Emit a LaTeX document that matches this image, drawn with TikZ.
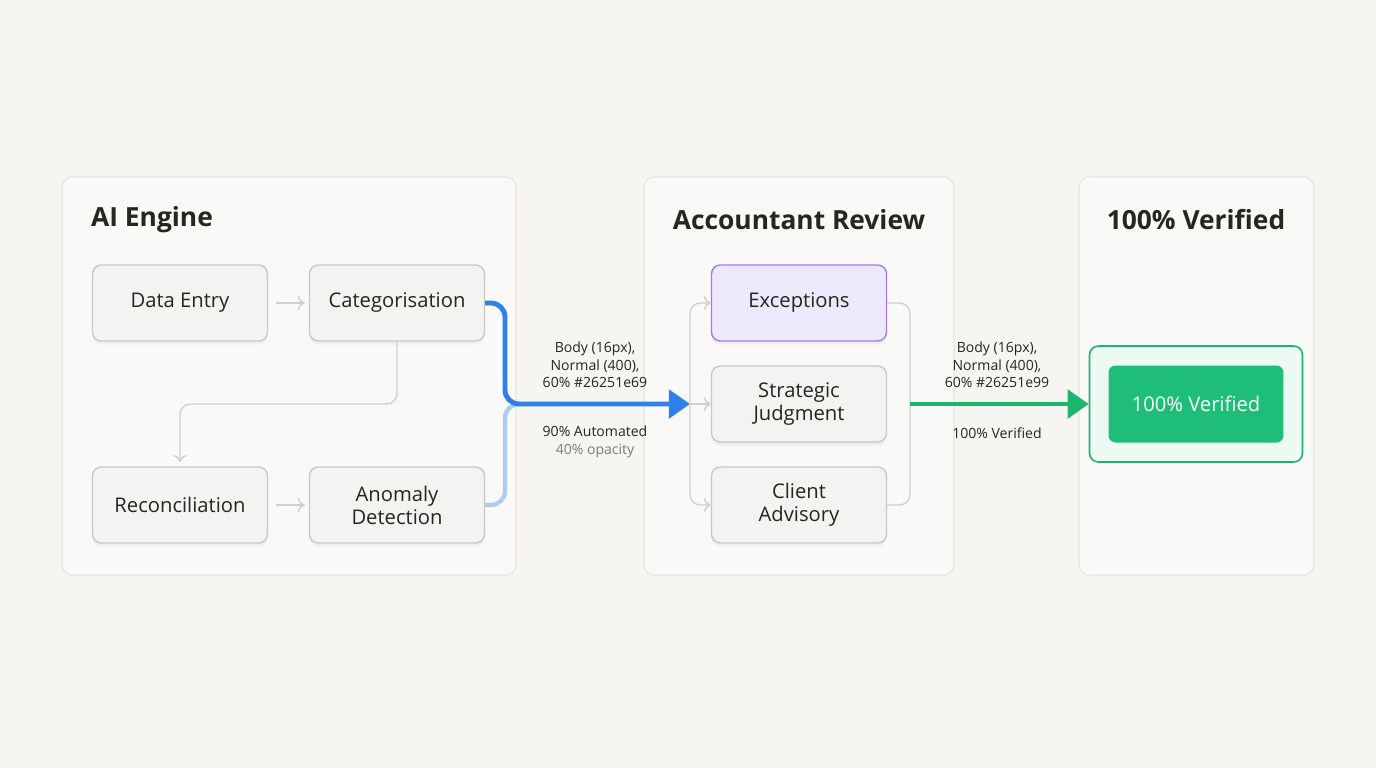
\documentclass[tikz,border=0pt]{standalone}
\usepackage{fontspec}
\setmainfont{Open Sans}
\usetikzlibrary{arrows.meta}
\usetikzlibrary{shadows}
\usetikzlibrary{calc}
\definecolor{paper}{HTML}{F6F5F1}
\definecolor{panel}{HTML}{F9F9F7}
\definecolor{panelline}{HTML}{E6E5E1}
\definecolor{boxfill}{HTML}{F3F3F1}
\definecolor{boxline}{HTML}{C8C8C5}
\definecolor{flowblue}{HTML}{2F80E8}
\definecolor{flowgreen}{HTML}{1DB46E}
\definecolor{vgreen}{HTML}{1EBE78}
\definecolor{exline}{HTML}{A47BE6}
\definecolor{exfill}{HTML}{EEE9FA}
\definecolor{ink}{HTML}{26251E}
\tikzset{
  panelbox/.style={draw=panelline, fill=panel, rounded corners=6pt, line width=.6pt},
  stage/.style={draw=boxline, fill=boxfill, rounded corners=5pt, line width=.8pt,
    minimum width=3.5cm, minimum height=1.52cm, align=center, font=\fontsize{11.5}{13}\selectfont,
    text=ink, drop shadow={shadow xshift=0pt, shadow yshift=-2pt, opacity=.08}},
  paneltitle/.style={font=\fontsize{15}{18}\selectfont\bfseries, text=ink},
  note/.style={font=\fontsize{8}{10}\selectfont, text=ink, align=center},
  link/.style={draw=boxline!85, line width=.8pt, rounded corners=6pt, -{To[length=4pt,width=8pt]}},
  joinline/.style={draw=boxline!85, line width=.8pt, rounded corners=6pt}
}
\begin{document}
\begin{tikzpicture}[x=0.02cm,y=-0.02cm]
\fill[paper] (0,0) rectangle (1376,768);
% panels
\draw[panelbox] (62,177) rectangle (516,575);
\draw[panelbox] (644,177) rectangle (954,575);
\draw[panelbox] (1079,177) rectangle (1314,575);
\node[paneltitle, anchor=west] (t1) at (85,220) {AI Engine};
\node[paneltitle] (t2) at (799,220) {Accountant Review};
\node[paneltitle] (t3) at (1196,220) {100\% Verified};
% AI engine steps
\node[stage] (entry) at (180,303) {Data Entry};
\node[stage] (cat) at (397,303) {Categorisation};
\node[stage] (rec) at (180,505) {Reconciliation};
\node[stage] (anom) at (397,505) {Anomaly\\Detection};
% review steps
\node[stage, draw=exline, fill=exfill] (exc) at (799,303) {Exceptions};
\node[stage] (strat) at (799,404) {Strategic\\Judgment};
\node[stage] (client) at (799,505) {Client\\Advisory};
% verified
\node[draw=flowgreen, fill=flowgreen!8, rounded corners=5pt, line width=.9pt,
  minimum width=4.26cm, minimum height=2.32cm] (glow) at (1196,404) {};
\node[fill=vgreen, rounded corners=4pt, minimum width=3.5cm, minimum height=1.54cm,
  text=white, font=\fontsize{11.5}{13}\selectfont] (done) at (1196,404) {100\% Verified};
% inner links
\draw[link] ($(entry.east)+(8,0)$) -- ($(cat.west)+(-4,0)$);
\draw[link] ($(rec.east)+(8,0)$) -- ($(anom.west)+(-4,0)$);
\draw[link] (cat.south) -- (397,404) -- (180,404) -- (180,462);
% automated flow
\coordinate (hub) at (690,404);
\draw[flowblue!40, line width=2.4pt, rounded corners=8pt] (anom.east) -- (505,505) -- (505,404) -- (560,404);
\draw[flowblue, line width=2.8pt, rounded corners=8pt, -{Triangle[length=12pt,width=16pt]}]
  (cat.east) -- (505,303) -- (505,404) -- (hub);
\draw[link] (hub) -- (strat.west);
\draw[link] (hub) -- (690,303) -- (exc.west);
\draw[link] (hub) -- (690,505) -- (client.west);
\draw[joinline] (exc.east) -- (910,303) -- (910,404);
\draw[joinline] (client.east) -- (910,505) -- (910,404);
\draw[flowgreen, line width=2.8pt, -{Triangle[length=12pt,width=16pt]}] (910,404) -- (glow.west);
% labels
\node[note] (n1) at (595,365) {Body (16px),\\Normal (400),\\60\% \#26251e69};
\node[note] (n2) at (595,442) {90\% Automated\\\textcolor{ink!60}{40\% opacity}};
\node[note] (n3) at (997,365) {Body (16px),\\Normal (400),\\60\% \#26251e99};
\node[note] (n4) at (997,433) {100\% Verified};
\end{tikzpicture}
\end{document}
